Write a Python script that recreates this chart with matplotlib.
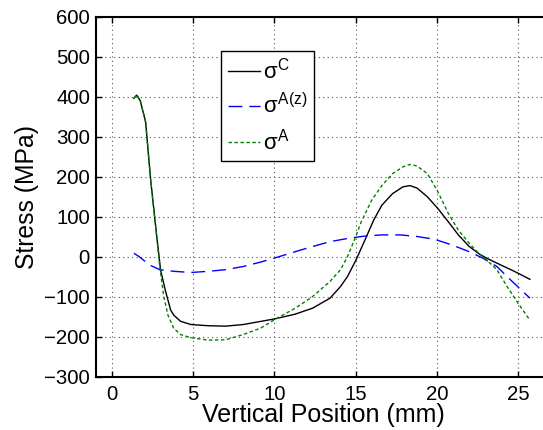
import matplotlib
matplotlib.use('Agg')
import matplotlib.pyplot as plt

plt.rcParams['font.family'] = ['Liberation Sans', 'DejaVu Sans']
plt.rcParams['mathtext.fontset'] = 'custom'
plt.rcParams['mathtext.rm'] = 'Liberation Sans'
plt.rcParams['mathtext.it'] = 'Liberation Sans'

''' Data read from the reference '''
x_c = [1.36, 1.53, 1.75, 2.08, 2.39, 2.70, 3.0, 3.3, 3.62, 3.82, 4.23, 4.87, 5.94, 7.0,
       8.08, 10.0, 11.28, 12.35, 13.42, 14.06, 14.49, 15.02, 15.56, 16.1, 16.6, 17.26,
       17.9, 18.33, 18.76, 19.4, 20.04, 20.68, 21.3, 21.97, 22.6, 23.03, 23.9, 24.74, 25.7]
s_c = [396, 404, 390, 337, 192, 75, -33, -85, -133, -146, -161, -169, -172, -173,
       -169, -155, -143, -128, -103, -74, -49, -7, 42, 92, 129, 158,
       175, 178, 172, 150, 121, 88, 55, 26, 7, -3, -20, -36, -56]

x_az = [1.36, 1.67, 2.31, 2.95, 3.8, 4.87, 5.94, 7.0, 8.08, 9.15, 10.0, 11.28, 12.35,
        13.42, 14.49, 15.56, 16.62, 17.7, 18.76, 19.83, 20.9, 21.97, 22.8, 23.67, 24.5, 25.7]
s_az = [9, 1, -20, -32, -36, -39, -36, -32, -24, -13, -3, 13, 26,
        38, 46, 52, 55, 55, 51, 44, 30, 13, -3, -24, -57, -103]

x_a = [1.36, 1.53, 1.75, 2.08, 2.39, 2.70, 2.95, 3.2, 3.45, 3.8, 4.23, 4.87, 5.94, 7.0,
       8.08, 9.15, 10.0, 11.28, 12.35, 13.42, 14.06, 14.49, 14.91, 15.34, 15.98, 16.62,
       17.26, 17.9, 18.33, 18.76, 19.4, 20.04, 20.68, 21.3, 21.97, 22.6, 23.03, 23.67,
       24.3, 24.96, 25.7]
s_a = [396, 405, 390, 337, 192, 75, -25, -100, -145, -178, -194, -202, -208, -207,
       -194, -178, -157, -128, -99, -61, -32, 1, 42, 88, 142, 179,
       208, 225, 231, 227, 208, 163, 109, 67, 34, 7, -7, -32,
       -74, -115, -158]

x_ticks = [0, 5, 10, 15, 20, 25]
y_ticks = [-300, -200, -100, 0, 100, 200, 300, 400, 500, 600]

fig = plt.figure(figsize=(5.43, 4.30), dpi=100)
ax = fig.add_axes([0.1759, 0.1233, 0.8389, 0.8379])

ax.plot(x_c, s_c, color='black', lw=1.0, label=r'$\sigma^{\rm C}$')
ax.plot(x_az, s_az, color='blue', lw=1.0, dashes=(10, 5), label=r'$\sigma^{\rm A(z)}$')
ax.plot(x_a, s_a, color='green', lw=1.0, dashes=(2.5, 1.8), label=r'$\sigma^{\rm A}$')

ax.set_xlim(-1, 27)
ax.set_ylim(-300, 600)
ax.set_xticks(x_ticks)
ax.set_yticks(y_ticks)
ax.set_yticklabels([str(v).replace('-', '\u2212') for v in y_ticks])
ax.tick_params(direction='in', labelsize=14.7, length=4, width=1, top=True, right=True)
ax.tick_params(axis='x', pad=6)
ax.tick_params(axis='y', pad=4)
ax.grid(True, color='#555555', linestyle=(0, (1, 3)), lw=0.8)
for sp in ax.spines.values():
    sp.set_linewidth(1.5)

ax.set_xlabel('Vertical Position (mm)', fontsize=18, labelpad=-1)
ax.set_ylabel('Stress (MPa)', fontsize=17.8, labelpad=4)

leg = ax.legend(loc='upper left', bbox_to_anchor=(0.2755, 0.905), fontsize=16,
                fancybox=False, framealpha=1, edgecolor='black', handlelength=1.45,
                borderpad=0.3, labelspacing=0.45, handletextpad=0.12, borderaxespad=0)
leg.get_frame().set_linewidth(1.0)

fig.savefig('out.png', dpi=100)
